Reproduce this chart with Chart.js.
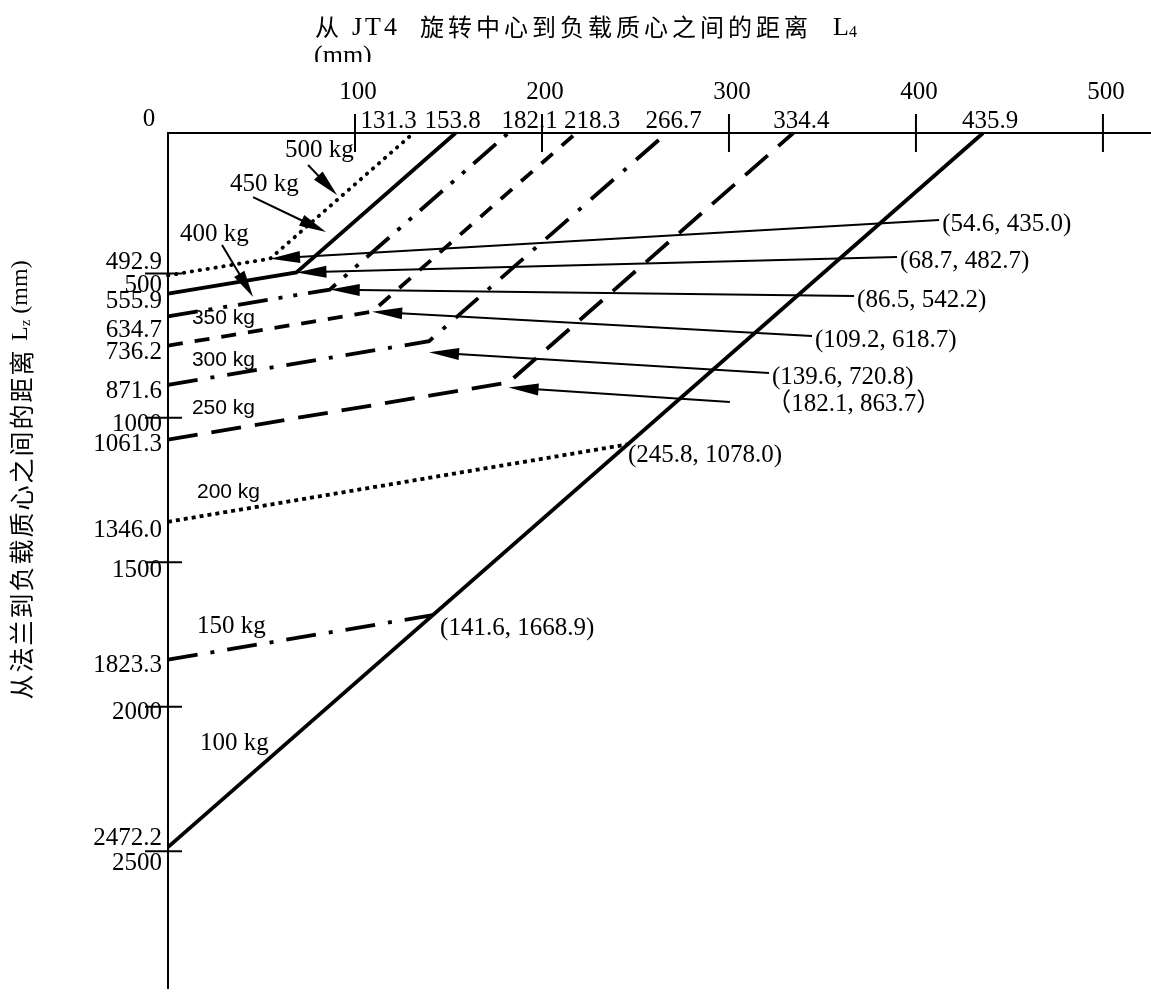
<!DOCTYPE html>
<html>
<head>
<meta charset="utf-8">
<script src="https://cdn.jsdelivr.net/npm/chart.js@4.4.1/dist/chart.umd.min.js"></script>
<style>
  html, body { margin: 0; padding: 0; background: #fff; }
  #wrap { width: 1151px; height: 993px; }
</style>
</head>
<body>
<div id="wrap"><canvas id="chart" width="1151" height="993"></canvas></div>
<script>
/* ── Data ─────────────────────────────────────────────── */
const loadsKg     = [100, 150, 200, 250, 300, 350, 400, 450, 500];
const lzAtFlange  = [2472.2, 1823.3, 1346.0, 1061.3, 871.6, 736.2, 634.7, 555.9, 492.9];
const kneeL4      = [null, 141.6, 245.8, 182.1, 139.6, 109.2, 86.5, 68.7, 54.6];
const kneeLz      = [null, 1668.9, 1078.0, 863.7, 720.8, 618.7, 542.2, 482.7, 435.0];
const l4AtTopAxis = [435.9, null, null, 334.4, 266.7, 218.3, 182.1, 153.8, 131.3];
const xTickValues = [100, 200, 300, 400, 500];
const yTickValues = [500, 1000, 1500, 2000, 2500];

const X_MAX = 525.7;
const Y_MAX = 2960;

/* ── Styles / layout ──────────────────────────────────── */
const SERIF = '"Liberation Serif", "Times New Roman", serif';
const SANS = '"Liberation Sans", Arial, sans-serif';
const CJK = '"Noto Sans CJK SC", sans-serif';

const lineStyles = {
    100: { dash: [] },
    150: { dash: [30, 13, 4, 13] },
    200: { dash: [4, 4] },
    250: { dash: [30, 14] },
    300: { dash: [30, 13, 4, 13] },
    350: { dash: [15, 12] },
    400: { dash: [30, 11, 4, 11, 4, 11] },
    450: { dash: [] },
    500: { dash: [0.5, 7.5], cap: 'round' },
};

// y label vertical nudges (px), keyed by value
const yLabelDy = {
    492.9: -13, 500: 8, 555.9: 8, 634.7: 14, 736.2: 7, 871.6: 7, 1000: 3,
    1061.3: 5, 1346: 9, 1500: 4, 1823.3: 6, 2000: 2, 2472.2: -9, 2500: 8,
};
// top-axis value label horizontal nudges (px)
const topLabelDx = { 131.3: -25, 153.8: -3, 182.1: 21, 218.3: 16, 266.7: 7, 334.4: 8, 435.9: 7 };

// coordinate call-outs, anchored in data units (L4, Lz) = left/middle of text
const coordCallouts = {
    500: { at: [414, 315], arrow: true },
    450: { at: [391.5, 443], arrow: true },
    400: { at: [368.5, 578], arrow: true },
    350: { at: [346, 717], arrow: true },
    300: { at: [323, 845], arrow: true, tipDy: 11 },
    250: { at: [320, 938], arrow: true, from: [300.5, 931], tipDy: 5, wide: true },
    200: { at: [246, 1118] },
    150: { at: [145.5, 1714] },
};

// load labels, anchored in data units = left/middle of text
const loadLabels = {
    500: { at: [62.6, 59], font: 'serif', arrow: [[74.9, 111], [90.4, 215]] },
    450: { at: [33.2, 177], font: 'serif', arrow: [[45.5, 222], [84.5, 343]] },
    400: { at: [6.4, 350], font: 'serif', arrow: [[28.9, 388], [45.5, 568]] },
    350: { at: [12.8, 640], font: 'sans' },
    300: { at: [12.8, 786], font: 'sans' },
    250: { at: [12.8, 952], font: 'sans' },
    200: { at: [15.5, 1243], font: 'sans' },
    150: { at: [15.5, 1707], font: 'serif' },
    100: { at: [17.1, 2115], font: 'serif' },
};

/* ── Datasets ─────────────────────────────────────────── */
const datasets = loadsKg.map((load, i) => {
    const pts = [{ x: 0, y: lzAtFlange[i] }];
    if (kneeL4[i] !== null) pts.push({ x: kneeL4[i], y: kneeLz[i] });
    if (l4AtTopAxis[i] !== null) pts.push({ x: l4AtTopAxis[i], y: 0 });
    const st = lineStyles[load];
    return {
        label: load + ' kg',
        data: pts,
        borderColor: '#000',
        borderWidth: 3.8,
        borderDash: st.dash,
        borderCapStyle: st.cap || 'butt',
        borderJoinStyle: 'miter',
        pointRadius: 0,
        tension: 0,
        fill: false,
        clip: false,
    };
});

/* ── Text / arrows plugin ─────────────────────────────── */
function seg(ctx, x1, y1, x2, y2) {
    ctx.beginPath();
    ctx.moveTo(x1, y1);
    ctx.lineTo(x2, y2);
    ctx.stroke();
}

function arrow(ctx, x1, y1, x2, y2, len, half, width) {
    const a = Math.atan2(y2 - y1, x2 - x1);
    const bx = x2 - len * Math.cos(a), by = y2 - len * Math.sin(a);
    ctx.lineWidth = width;
    seg(ctx, x1, y1, bx + 2 * Math.cos(a), by + 2 * Math.sin(a));
    ctx.beginPath();
    ctx.moveTo(x2, y2);
    ctx.lineTo(bx - half * Math.sin(a), by + half * Math.cos(a));
    ctx.lineTo(bx + half * Math.sin(a), by - half * Math.cos(a));
    ctx.closePath();
    ctx.fill();
}

const f1 = v => v.toFixed(1);

const figureText = {
    id: 'figureText',
    afterDraw(chart) {
        const { ctx } = chart;
        const xs = chart.scales.x, ys = chart.scales.y;
        const px = v => xs.getPixelForValue(v);
        const py = v => ys.getPixelForValue(v);
        const axisX = px(0), axisY = py(0);

        ctx.save();
        ctx.fillStyle = '#000';
        ctx.strokeStyle = '#000';
        ctx.lineCap = 'butt';

        // tick marks
        ctx.lineWidth = 2;
        xTickValues.forEach(v => seg(ctx, px(v), axisY - 19, px(v), axisY + 19));
        yTickValues.forEach(v => seg(ctx, axisX - 23, py(v) - 4, axisX + 14, py(v) - 4));

        // x tick labels
        ctx.font = `25px ${SERIF}`;
        ctx.textBaseline = 'middle';
        ctx.textAlign = 'center';
        xTickValues.forEach(v => ctx.fillText(String(v), px(v) + 3, 92));
        ctx.fillText('0', axisX - 19, 119);

        // top-axis crossing values
        l4AtTopAxis.forEach(v => {
            if (v === null) return;
            ctx.fillText(f1(v), px(v) + (topLabelDx[v] || 0), 121);
        });

        // y labels (round ticks + start values)
        ctx.textAlign = 'right';
        yTickValues.forEach(v => ctx.fillText(String(v), axisX - 6, py(v) + (yLabelDy[v] || 0)));
        lzAtFlange.forEach(v => ctx.fillText(f1(v), axisX - 6, py(v) + (yLabelDy[v] || 0)));

        // coordinate call-outs
        ctx.textAlign = 'left';
        loadsKg.forEach((load, i) => {
            const c = coordCallouts[load];
            if (!c) return;
            const tx = px(c.at[0]), ty = py(c.at[1]);
            const txt = c.wide
                ? `（${f1(kneeL4[i])}, ${f1(kneeLz[i])}）`
                : `(${f1(kneeL4[i])}, ${f1(kneeLz[i])})`;
            ctx.font = `25px ${SERIF}, ${CJK}`;
            ctx.fillText(txt, tx, ty);
            if (c.arrow) {
                const sx = c.from ? px(c.from[0]) : tx - 3;
                const sy = c.from ? py(c.from[1]) : ty - 4;
                arrow(ctx, sx, sy, px(kneeL4[i]), py(kneeLz[i]) + (c.tipDy || 0), 30, 6, 2);
            }
        });

        // load labels
        loadsKg.forEach(load => {
            const l = loadLabels[load];
            if (!l) return;
            ctx.font = l.font === 'sans' ? `21px ${SANS}` : `25px ${SERIF}`;
            ctx.fillText(load + ' kg', px(l.at[0]), py(l.at[1]));
            if (l.arrow) {
                arrow(ctx, px(l.arrow[0][0]), py(l.arrow[0][1]),
                    px(l.arrow[1][0]), py(l.arrow[1][1]), 27, 6, 2);
            }
        });

        // top title
        ctx.font = `24px ${CJK}`;
        ctx.fillText('从', 315, 27);
        ctx.font = `26px ${SERIF}`;
        ctx.letterSpacing = '3px';
        ctx.fillText('JT4', 352, 28);
        ctx.font = `24px ${CJK}`;
        ctx.letterSpacing = '4px';
        ctx.fillText('旋转中心到负载质心之间的距离', 420, 27);
        ctx.letterSpacing = '0px';
        ctx.font = `26px ${SERIF}`;
        ctx.fillText('L', 833, 28);
        ctx.font = `16px ${SERIF}`;
        ctx.fillText('4', 849, 33);
        ctx.save();
        ctx.beginPath();
        ctx.rect(300, 40, 120, 22);
        ctx.clip();
        ctx.font = `26px ${SERIF}`;
        ctx.fillText('(mm)', 314, 56);
        ctx.restore();

        // left title (rotated)
        ctx.save();
        ctx.translate(21, 480);
        ctx.rotate(-Math.PI / 2);
        ctx.textAlign = 'left';
        const part1 = '从法兰到负载质心之间的距离 ';
        ctx.font = `25px ${CJK}`;
        ctx.letterSpacing = '2px';
        const w1 = ctx.measureText(part1).width;
        ctx.letterSpacing = '0px';
        ctx.font = `24px ${SERIF}`;
        const wL = ctx.measureText('L').width;
        ctx.font = `15px ${SERIF}`;
        const wz = ctx.measureText('z').width;
        ctx.font = `24px ${SERIF}`;
        const w3 = ctx.measureText(' (mm)').width;
        let x = -(w1 + wL + wz + w3) / 2;
        ctx.font = `25px ${CJK}`;
        ctx.letterSpacing = '2px';
        ctx.fillText(part1, x, 0); x += w1;
        ctx.letterSpacing = '0px';
        ctx.font = `24px ${SERIF}`;
        ctx.fillText('L', x, 0); x += wL;
        ctx.font = `15px ${SERIF}`;
        ctx.fillText('z', x, 5); x += wz;
        ctx.font = `24px ${SERIF}`;
        ctx.fillText(' (mm)', x, 0);
        ctx.restore();

        ctx.restore();
    }
};

/* ── Chart ────────────────────────────────────────────── */
new Chart(document.getElementById('chart'), {
    type: 'line',
    data: { datasets },
    options: {
        responsive: false,
        animation: false,
        devicePixelRatio: 1,
        layout: { autoPadding: false, padding: { left: 168, top: 133, right: 0, bottom: 5 } },
        plugins: {
            legend: { display: false },
            tooltip: { enabled: false },
        },
        scales: {
            x: {
                type: 'linear',
                position: 'top',
                min: 0,
                max: X_MAX,
                grid: { display: false, drawTicks: false },
                ticks: { display: false },
                border: { display: true, color: '#000', width: 2 },
            },
            y: {
                type: 'linear',
                reverse: true,
                min: 0,
                max: Y_MAX,
                grid: { display: false, drawTicks: false },
                ticks: { display: false },
                border: { display: true, color: '#000', width: 2 },
            }
        }
    },
    plugins: [figureText]
});
</script>
</body>
</html>
